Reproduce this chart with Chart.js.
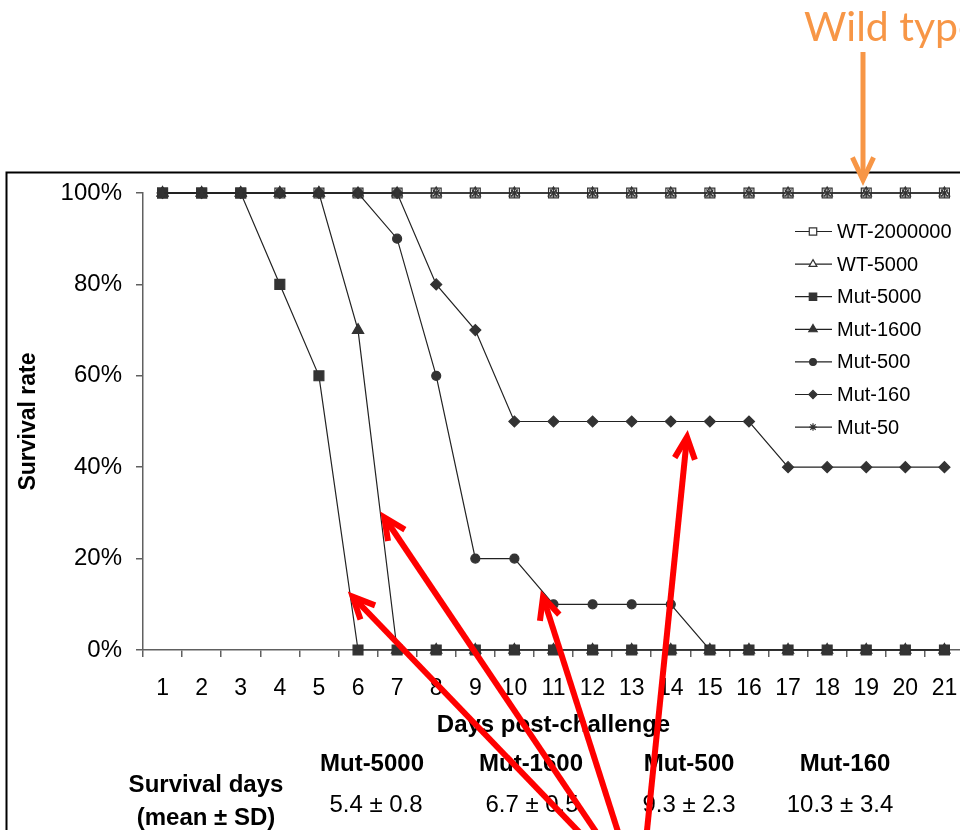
<!DOCTYPE html>
<html>
<head>
<meta charset="utf-8">
<script src="https://cdn.jsdelivr.net/npm/chart.js@4.4.1/dist/chart.umd.min.js"></script>
<style>
html,body{margin:0;padding:0;background:#fff;overflow:hidden;width:960px;height:830px;}
#wrap{position:relative;width:960px;height:830px;overflow:hidden;background:#fff;}
#c{position:absolute;left:0;top:0;}
.t{position:absolute;font-family:"Liberation Sans",Arial,sans-serif;color:#000;white-space:nowrap;transform:translate(-50%,-50%);font-size:24px;line-height:1.15;}
.b{font-weight:bold;}
#wild{position:absolute;left:804px;top:5px;font-family:Lato,"Open Sans",sans-serif;font-size:41px;line-height:1;color:#F79646;white-space:nowrap;}
#ov{position:absolute;left:0;top:0;pointer-events:none;}
</style>
</head>
<body>
<div id="wrap">
  <canvas id="c" width="1000" height="830"></canvas>
  <div id="wild">Wild type</div>
  <div id="table"></div>
  <svg id="ov" width="960" height="830" xmlns="http://www.w3.org/2000/svg"></svg>
</div>
<script>
// ---- data ----
const days = ['1','2','3','4','5','6','7','8','9','10','11','12','13','14','15','16','17','18','19','20','21'];
const wt2000000 = [100,100,100,100,100,100,100,100,100,100,100,100,100,100,100,100,100,100,100,100,100];
const wt5000    = [100,100,100,100,100,100,100,100,100,100,100,100,100,100,100,100,100,100,100,100,100];
const mut5000   = [100,100,100,80,60,0,0,0,0,0,0,0,0,0,0,0,0,0,0,0,0];
const mut1600   = [100,100,100,100,100,70,0,0,0,0,0,0,0,0,0,0,0,0,0,0,0];
const mut500    = [100,100,100,100,100,100,90,60,20,20,10,10,10,10,0,0,0,0,0,0,0];
const mut160    = [100,100,100,100,100,100,100,80,70,50,50,50,50,50,50,50,40,40,40,40,40];
const mut50     = [100,100,100,100,100,100,100,100,100,100,100,100,100,100,100,100,100,100,100,100,100];
const seriesNames = ['WT-2000000','WT-5000','Mut-5000','Mut-1600','Mut-500','Mut-160','Mut-50'];
const yTicks = [0,20,40,60,80,100];

const tableGroups = ['Mut-5000','Mut-1600','Mut-500','Mut-160'];
const tableMeans  = ['5.4','6.7','9.3','10.3'];
const tableSDs    = ['0.8','0.5','2.3','3.4'];

// ---- styles ----
const FONT = '"Liberation Sans", Arial, sans-serif';
const DARK = '#333333';
const styles = [
  {pointStyle:'rect',     radius:7,   bg:'#ffffff', border:DARK},
  {pointStyle:'triangle', radius:6,   bg:'#ffffff', border:DARK},
  {pointStyle:'rect',     radius:7,   bg:DARK,      border:DARK},
  {pointStyle:'triangle', radius:6.5, bg:DARK,      border:DARK},
  {pointStyle:'circle',   radius:4.5, bg:DARK,      border:DARK},
  {pointStyle:'rectRot',  radius:5.5, bg:DARK,      border:DARK},
  {pointStyle:'star',     radius:5,   bg:DARK,      border:DARK}
];
const seriesData = [wt2000000, wt5000, mut5000, mut1600, mut500, mut160, mut50];

const datasets = seriesData.map((d,i)=>({
  label: seriesNames[i],
  data: d,
  borderColor: '#222',
  borderWidth: 1.2,
  pointStyle: styles[i].pointStyle,
  pointRadius: styles[i].radius,
  pointBackgroundColor: styles[i].bg,
  pointBorderColor: styles[i].border,
  pointBorderWidth: 1.2,
  tension: 0,
  fill: false,
  clip: false,
  order: seriesData.length - i
}));

const legendPlugin = {
  id: 'sideLegend',
  afterDraw(chart){
    const ctx = chart.ctx;
    chart.data.datasets.forEach((ds,i)=>{
      const y = 231.5 + i*32.6;
      ctx.save();
      ctx.strokeStyle = '#222';
      ctx.lineWidth = 1.2;
      ctx.beginPath(); ctx.moveTo(795,y); ctx.lineTo(832,y); ctx.stroke();
      ctx.fillStyle = ds.pointBackgroundColor;
      ctx.strokeStyle = ds.pointBorderColor;
      ctx.lineWidth = 1.2;
      if (Chart.helpers && Chart.helpers.drawPoint) {
        Chart.helpers.drawPoint(ctx, {pointStyle: ds.pointStyle, radius: ds.pointRadius*0.75, borderWidth: 1.2, rotation: 0}, 813, y);
      }
      ctx.fillStyle = '#000';
      ctx.font = '20px ' + FONT;
      ctx.textAlign = 'left';
      ctx.textBaseline = 'middle';
      ctx.fillText(ds.label, 837, y+1);
      ctx.restore();
    });
  }
};

new Chart(document.getElementById('c'), {
  type: 'line',
  data: { labels: days, datasets },
  plugins: [legendPlugin],
  options: {
    responsive: false,
    animation: false,
    layout: { padding: { left: 0, right: 36, top: 193, bottom: 80 } },
    plugins: { legend: { display: false }, tooltip: { enabled: false } },
    scales: {
      x: {
        type: 'category',
        offset: true,
        grid: { offset: true, drawOnChartArea: false, drawTicks: true, tickLength: 7, color: '#606060', lineWidth: 1.5 },
        border: { display: true, color: '#606060', width: 1.5 },
        ticks: { font: { size: 23, family: FONT }, color: '#000', padding: 18, maxRotation: 0, autoSkip: false },
        title: { display: true, text: 'Days post-challenge', color: '#000', font: { size: 24, weight: 'bold', family: FONT }, padding: { top: 0, bottom: 10 } },
        afterFit: s => { s.height = 100; }
      },
      y: {
        min: 0, max: 100,
        afterBuildTicks: s => { s.ticks = yTicks.map(v => ({ value: v })); },
        grid: { drawOnChartArea: false, drawTicks: true, tickLength: 7, color: '#606060', lineWidth: 1.5 },
        border: { display: true, color: '#606060', width: 1.5 },
        ticks: { font: { size: 24, family: FONT }, color: '#000', padding: 14, callback: v => v + '%' },
        title: { display: true, text: 'Survival rate', color: '#000', font: { size: 23, weight: 'bold', family: FONT }, padding: { top: 15, bottom: 0 } },
        afterFit: s => { s.width = 143; }
      }
    }
  }
});

// ---- table under the chart ----
const tbl = document.getElementById('table');
function addText(txt, x, y, bold){
  const d = document.createElement('div');
  d.className = 't' + (bold ? ' b' : '');
  d.style.left = x + 'px'; d.style.top = y + 'px';
  d.textContent = txt;
  tbl.appendChild(d);
}
addText('Survival days', 206, 784, true);
addText('(mean \u00B1 SD)', 206, 817, true);
const hdrX = [372, 531, 689, 845];
const valX = [376, 532, 689, 840];
tableGroups.forEach((g,i)=>{
  addText(g, hdrX[i], 763, true);
  addText(tableMeans[i] + ' \u00B1 ' + tableSDs[i], valX[i], 804, false);
});

// ---- frame and arrows ----
const svg = document.getElementById('ov');
const NS = 'http://www.w3.org/2000/svg';
function el(name, attrs){
  const e = document.createElementNS(NS, name);
  for (const k in attrs) e.setAttribute(k, attrs[k]);
  svg.appendChild(e);
  return e;
}
el('path', {d:'M6.5 840 L6.5 172.5 L970 172.5', stroke:'#000', 'stroke-width':2, fill:'none'});
function arrow(x1,y1,x2,y2,color,w,len,angDeg){
  const dx = x2-x1, dy = y2-y1, L = Math.hypot(dx,dy);
  const ux = dx/L, uy = dy/L;
  const a = angDeg*Math.PI/180;
  const bx = -ux, by = -uy;
  const r1x = bx*Math.cos(a) - by*Math.sin(a), r1y = bx*Math.sin(a) + by*Math.cos(a);
  const r2x = bx*Math.cos(-a) - by*Math.sin(-a), r2y = bx*Math.sin(-a) + by*Math.cos(-a);
  el('line', {x1:x1, y1:y1, x2:x2 - ux*w*0.6, y2:y2 - uy*w*0.6, stroke:color, 'stroke-width':w});
  el('polyline', {points:`${x2+r1x*len},${y2+r1y*len} ${x2},${y2} ${x2+r2x*len},${y2+r2y*len}`,
    stroke:color, 'stroke-width':w, fill:'none', 'stroke-linejoin':'miter', 'stroke-miterlimit':10, 'stroke-linecap':'butt'});
}
arrow(863, 52, 863, 180, '#F79646', 5, 25, 25);
arrow(606, 860, 352.7, 596.7, '#FF0000', 6, 24, 25);
arrow(615, 860, 384.3, 517.3, '#FF0000', 6, 24, 25);
arrow(627, 860, 543, 597, '#FF0000', 6, 24, 25);
arrow(644, 860, 687, 437, '#FF0000', 6, 24, 25);
</script>
</body>
</html>
